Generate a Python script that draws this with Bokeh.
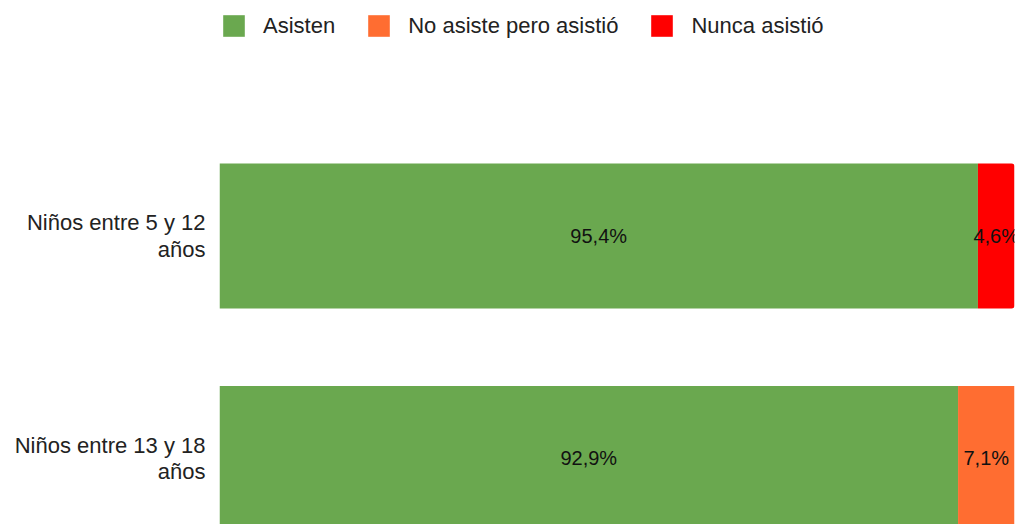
from bokeh.plotting import figure
from bokeh.models import ColumnDataSource, FixedTicker, Range1d
from bokeh.embed import file_html
from bokeh.resources import INLINE
from bokeh.core.properties import value

categories = ["Niños entre 5 y 12 años", "Niños entre 13 y 18 años"]
series_names = ["Asisten", "No asiste pero asistió", "Nunca asistió"]
asisten = [95.4, 92.9]
no_asiste = [0.0, 7.1]
nunca = [4.6, 0.0]
colors = ["#6aa84f", "#ff6d31", "#ff0000"]

ypos = [1, 0]
FONT = "Liberation Sans"

src = ColumnDataSource(dict(y=ypos, a=asisten, b=no_asiste, c=nunca))

p = figure(width=1019, height=524, output_backend="svg", toolbar_location=None,
           x_range=Range1d(0, 100), y_range=Range1d(-0.2967, 2.0584),
           min_border_left=219, min_border_right=5, min_border_top=0, min_border_bottom=0)
p.outline_line_color = None
p.xgrid.visible = False
p.ygrid.visible = False
p.xaxis.visible = False

rs = p.hbar_stack(["a", "b", "c"], y="y", height=0.6517, color=colors, source=src,
                  line_color=None, legend_label=series_names)
try:
    rs[2].glyph.border_radius = (0, 3, 3, 0)
except Exception:
    pass

# data labels
lx, ly, lt = [], [], []
for i, yv in enumerate(ypos):
    start = 0.0
    for vals in (asisten, no_asiste, nunca):
        v = vals[i]
        if v > 0:
            lx.append(start + v / 2)
            ly.append(yv)
            lt.append(f"{v:.1f}".replace(".", ",") + "%")
        start += v
p.text(x=lx, y=ly, text=lt, text_align="center", text_baseline="middle",
       text_font=value(FONT), text_font_size="20px", text_color="#111111")

ax = p.yaxis[0]
ax.ticker = FixedTicker(ticks=ypos)
ax.major_label_overrides = {yv: "\n".join(c.rsplit(" ", 1)) for yv, c in zip(ypos, categories)}
ax.axis_line_color = None
ax.major_tick_line_color = None
ax.minor_tick_line_color = None
ax.major_tick_out = 0
ax.major_label_standoff = 14
ax.major_label_text_font = FONT
ax.major_label_text_font_size = "22px"
ax.major_label_text_line_height = 1.05
ax.major_label_text_color = "#222222"

lg = p.legend[0]
lg.orientation = "horizontal"
lg.location = (1.0, 485)
lg.padding = 0
lg.margin = 0
lg.border_line_color = None
lg.background_fill_alpha = 0
lg.glyph_width = 27
lg.glyph_height = 27
lg.label_standoff = 16
lg.spacing = 30
lg.label_text_font = FONT
lg.label_text_font_size = "22px"
lg.label_text_color = "#222222"

open("out.html", "w").write(file_html(p, INLINE))
